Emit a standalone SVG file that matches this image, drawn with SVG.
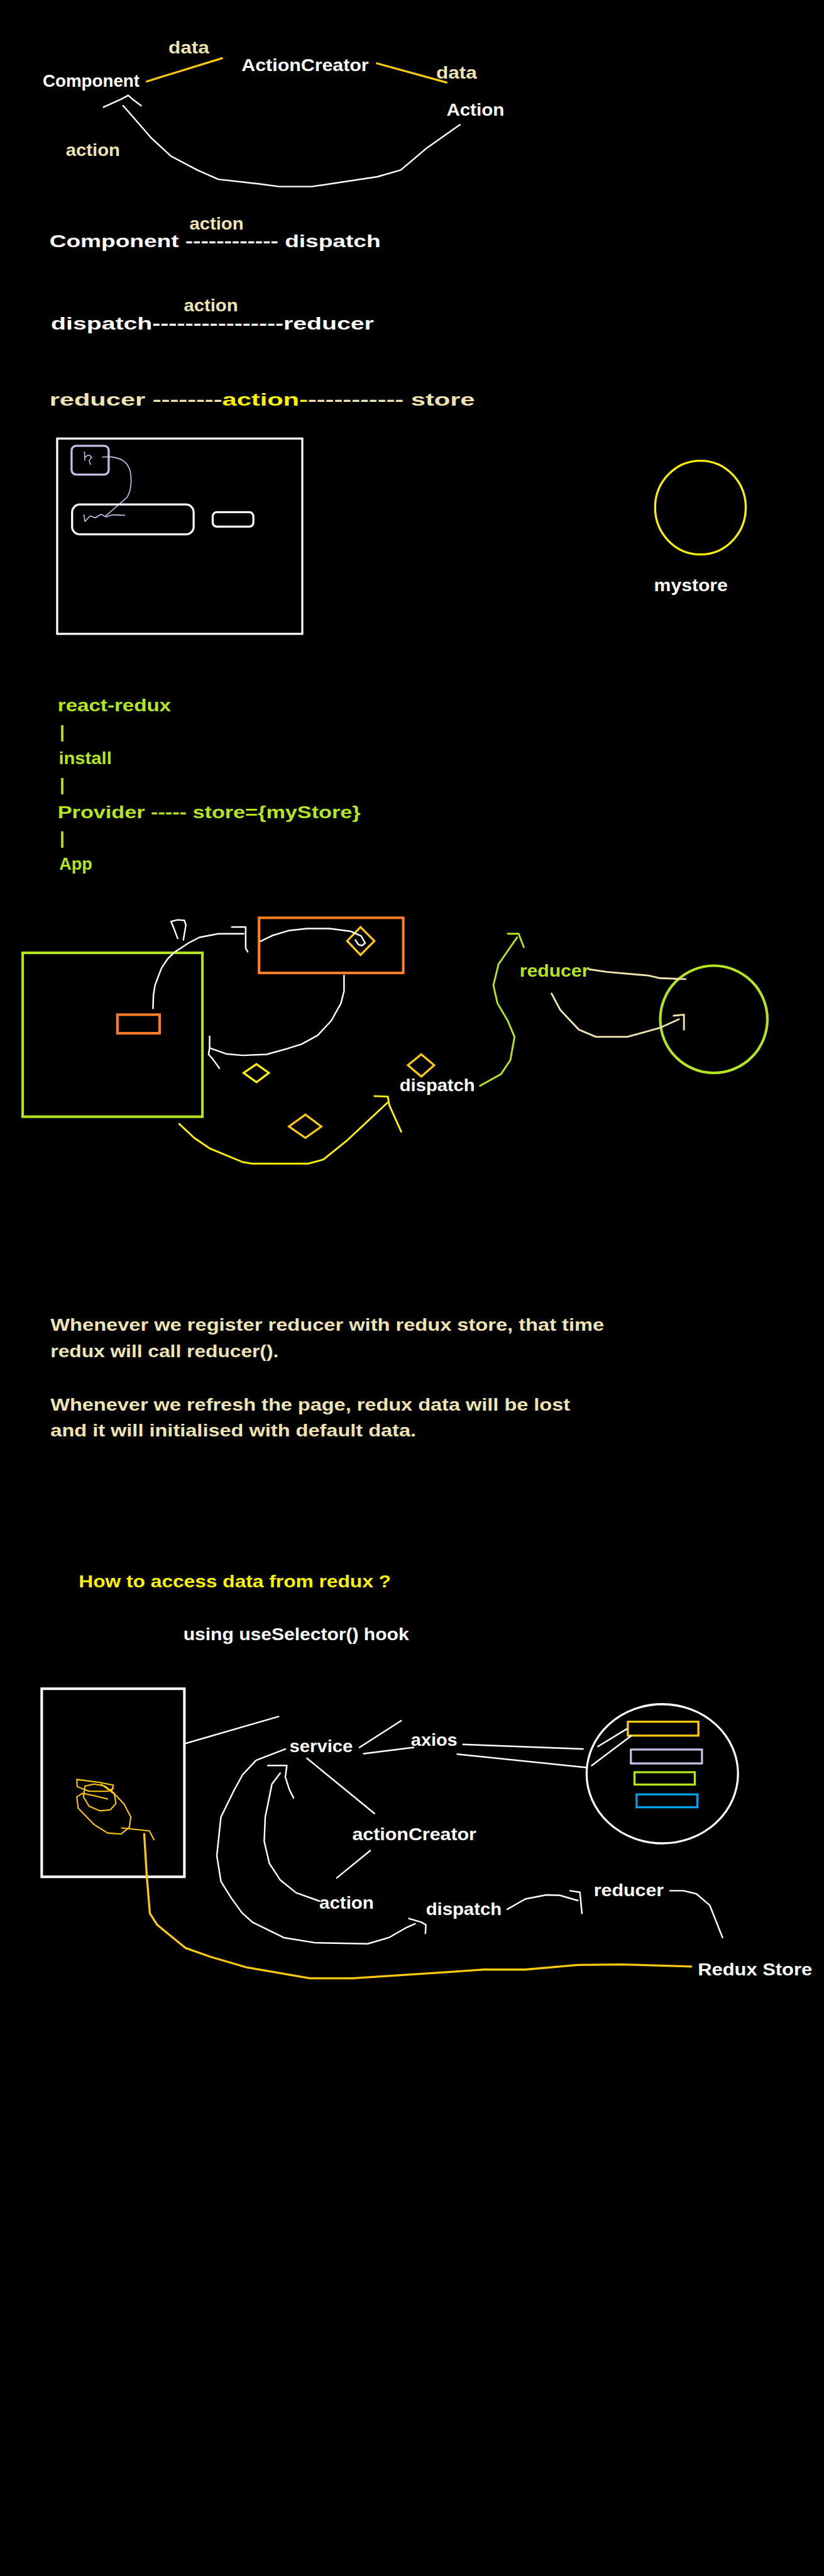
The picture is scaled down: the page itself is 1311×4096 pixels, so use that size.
<svg xmlns="http://www.w3.org/2000/svg" width="1311" height="4096" viewBox="0 0 1311 4096">
<style>
.t{font-family:"Liberation Sans",Arial,sans-serif;font-weight:bold;font-size:34px}
.w{fill:#ffffff}.tan{fill:#EFE4B0}.y{fill:#FFF200}.g{fill:#B5E61D}
.s{fill:none;stroke-linecap:round;stroke-linejoin:round}
.sw{stroke:#ffffff;stroke-width:3}
.sgold{stroke:#FFC90E;stroke-width:4}
.sy{stroke:#FFF200;stroke-width:3.5}
.sg{stroke:#B5E61D;stroke-width:3.5}
.stan{stroke:#EFE4B0;stroke-width:3.5}
.slav{stroke:#C8BFE7;stroke-width:2}
</style>
<rect width="1311" height="4096" fill="#000000"/>
<g transform="scale(0.8194)">

<!-- Section 1 -->
<g id="n-data1"><text class="t tan" x="327" y="104" textLength="79" lengthAdjust="spacingAndGlyphs">data</text></g>
<g id="n-actioncreator"><text class="t w" x="469" y="138" textLength="247" lengthAdjust="spacingAndGlyphs">ActionCreator</text></g>
<g id="n-component"><text class="t w" x="83" y="168" textLength="188" lengthAdjust="spacingAndGlyphs">Component</text></g>
<g id="n-data2"><text class="t tan" x="847" y="152" textLength="79" lengthAdjust="spacingAndGlyphs">data</text></g>
<g id="n-action1"><text class="t w" x="867" y="225" textLength="112" lengthAdjust="spacingAndGlyphs">Action</text></g>
<g id="n-actionlabel"><text class="t tan" x="128" y="303" textLength="105" lengthAdjust="spacingAndGlyphs">action</text></g>

<!-- Section 2 -->
<g id="n-line-a"><text class="t tan" x="368" y="446" textLength="105" lengthAdjust="spacingAndGlyphs">action</text>
<text class="t w" x="96" y="480" textLength="643" lengthAdjust="spacingAndGlyphs">Component ------------ dispatch</text></g>
<g id="n-line-b"><text class="t tan" x="357" y="604" textLength="105" lengthAdjust="spacingAndGlyphs">action</text>
<text class="t w" x="99" y="640" textLength="627" lengthAdjust="spacingAndGlyphs">dispatch----------------reducer</text></g>
<g id="n-line-c"><text class="t tan" x="96" y="787" textLength="826" lengthAdjust="spacingAndGlyphs">reducer --------<tspan class="y">action-</tspan>----------- store</text></g>

<!-- Section 3 -->
<g id="n-page">
<rect x="111" y="851" width="476" height="379" fill="none" stroke="#ffffff" stroke-width="4"/>
<rect x="139" y="865" width="72" height="56" rx="9" fill="none" stroke="#C8BFE7" stroke-width="4"/>
<path class="s slav" d="M164,877 L165,893 M166,887 Q173,879 178,888 Q170,893 176,901"/>
<path class="s slav" d="M199,887 Q245,883 253,915 Q258,945 247,965 L204,1002"/>
<path class="s slav" d="M163,999 L165,1012 L175,1001 L185,1005 L196,998 L206,1003 L218,999 L242,1000"/>
<rect x="140" y="979" width="236" height="58" rx="15" fill="none" stroke="#ffffff" stroke-width="4"/>
<rect x="413" y="994" width="79" height="28" rx="8" fill="none" stroke="#ffffff" stroke-width="4"/>
</g>
<g id="n-mystore">
<ellipse cx="1360" cy="985" rx="88" ry="91" fill="none" stroke="#FFF200" stroke-width="4"/>
<text class="t w" x="1270" y="1147" textLength="143" lengthAdjust="spacingAndGlyphs">mystore</text>
</g>

<!-- Section 4 -->
<g id="n-react-redux">
<text class="t g" x="112" y="1380" textLength="220" lengthAdjust="spacingAndGlyphs">react-redux</text>
<text class="t g" x="116" y="1431">|</text>
<text class="t g" x="114" y="1483" textLength="103" lengthAdjust="spacingAndGlyphs">install</text>
<text class="t g" x="116" y="1534">|</text>
<text class="t g" x="112" y="1588" textLength="588" lengthAdjust="spacingAndGlyphs">Provider ----- store={myStore}</text>
<text class="t g" x="116" y="1638">|</text>
<text class="t g" x="115" y="1688" textLength="64" lengthAdjust="spacingAndGlyphs">App</text>
</g>

<!-- Section 5 -->
<g id="n-app-box">
<rect x="44" y="1849" width="349" height="318" fill="none" stroke="#B5E61D" stroke-width="5"/>
<rect x="228" y="1969" width="82" height="36" fill="none" stroke="#FF7F27" stroke-width="5"/>
</g>
<g id="n-comp-box">
<rect x="503" y="1781" width="280" height="107" fill="none" stroke="#FF7F27" stroke-width="5"/>
<polygon points="700,1799 727,1826 700,1853 674,1826" fill="none" stroke="#FFC90E" stroke-width="4"/>
</g>
<g id="n-diamonds">
<polygon points="498,2065 522,2082 498,2100 473,2082" fill="none" stroke="#FFF200" stroke-width="4"/>
<polygon points="593,2163 624,2186 593,2208 561,2186" fill="none" stroke="#FFC90E" stroke-width="4"/>
<polygon points="818,2046 843,2067 818,2089 792,2067" fill="none" stroke="#FFC90E" stroke-width="4"/>
</g>
<g id="n-dispatch1"><text class="t w" x="776" y="2117" textLength="146" lengthAdjust="spacingAndGlyphs">dispatch</text></g>
<g id="n-reducer1"><text class="t g" x="1009" y="1895" textLength="135" lengthAdjust="spacingAndGlyphs">reducer</text></g>
<g id="n-store1"><circle cx="1386" cy="1978" r="104" fill="none" stroke="#B5E61D" stroke-width="5"/></g>

<!-- Section 6 -->
<g id="n-notes">
<text class="t tan" x="98" y="2582" textLength="1075" lengthAdjust="spacingAndGlyphs">Whenever we register reducer with redux store, that time</text>
<text class="t tan" x="98" y="2634" textLength="443" lengthAdjust="spacingAndGlyphs">redux will call reducer().</text>
<text class="t tan" x="98" y="2737" textLength="1009" lengthAdjust="spacingAndGlyphs">Whenever we refresh the page, redux data will be lost</text>
<text class="t tan" x="98" y="2788" textLength="710" lengthAdjust="spacingAndGlyphs">and it will initialised with default data.</text>
</g>

<!-- Section 7 -->
<g id="n-question">
<text class="t y" x="153" y="3080" textLength="606" lengthAdjust="spacingAndGlyphs">How to access data from redux ?</text>
<text class="t w" x="356" y="3183" textLength="438" lengthAdjust="spacingAndGlyphs">using useSelector() hook</text>
</g>

<!-- Section 8 -->
<g id="n-page2">
<rect x="81" y="3277" width="277" height="365" fill="none" stroke="#ffffff" stroke-width="5"/>
<path class="s" stroke="#FFC90E" stroke-width="2.5" d="M149,3453 L194,3459 L220,3464 L217,3475 M149,3453 L150,3467 L173,3476 L209,3476 L220,3470"/>
<path class="s" stroke="#FFC90E" stroke-width="2.5" d="M183,3462 L165,3466 L162,3487 L173,3505 L194,3514 L214,3512 L225,3500 L222,3480 L204,3466 L183,3462"/>
<path class="s" stroke="#FFC90E" stroke-width="2.5" d="M196,3462 L225,3484 L241,3501 L254,3526 L251,3546 L235,3559 L209,3557 L183,3541 L152,3509 L149,3487 L160,3480 L180,3484 L209,3491"/>
</g>
<g id="n-service"><text class="t w" x="562" y="3400" textLength="123" lengthAdjust="spacingAndGlyphs">service</text></g>
<g id="n-axios"><text class="t w" x="798" y="3388" textLength="90" lengthAdjust="spacingAndGlyphs">axios</text></g>
<g id="n-server">
<ellipse cx="1286" cy="3442" rx="147" ry="135" fill="none" stroke="#ffffff" stroke-width="4"/>
<rect x="1219" y="3341" width="137" height="27" fill="none" stroke="#FFC90E" stroke-width="4"/>
<rect x="1225" y="3395" width="138" height="27" fill="none" stroke="#C8BFE7" stroke-width="4"/>
<rect x="1232" y="3439" width="117" height="24" fill="none" stroke="#B5E61D" stroke-width="4"/>
<rect x="1236" y="3482" width="118" height="25" fill="none" stroke="#00A2E8" stroke-width="4"/>
</g>
<g id="n-actioncreator2"><text class="t w" x="684" y="3571" textLength="241" lengthAdjust="spacingAndGlyphs">actionCreator</text></g>
<g id="n-action2"><text class="t w" x="620" y="3704" textLength="106" lengthAdjust="spacingAndGlyphs">action</text></g>
<g id="n-dispatch2"><text class="t w" x="827" y="3716" textLength="147" lengthAdjust="spacingAndGlyphs">dispatch</text></g>
<g id="n-reducer2"><text class="t w" x="1153" y="3680" textLength="136" lengthAdjust="spacingAndGlyphs">reducer</text></g>
<g id="n-reduxstore"><text class="t w" x="1355" y="3833" textLength="222" lengthAdjust="spacingAndGlyphs">Redux Store</text></g>

<!-- Connectors -->
<g id="connectors">
<path class="s sgold" d="M285,158 L431,113"/>
<path class="s sgold" d="M732,123 L867,160"/>
<path class="s sw" d="M893,242 L829,287 L778,330 L733,343 L606,362 L542,362 L504,357 L424,348 L383,330 L332,303 L293,267 L261,230 L239,205"/>
<path class="s sw" d="M201,208 L236,192 L249,185 L258,193 L274,205"/>

<path class="s sw" d="M505,1827 L530,1815 L560,1806 L596,1802 L640,1802 L680,1807 L701,1816 L709,1830 L703,1835 L696,1833 L690,1824"/>
<path class="s sw" d="M297,1957 L298,1930 L301,1912 L308,1893 L314,1878 L326,1860 L340,1847 L366,1830 L387,1819 L424,1812 L473,1812"/>
<path class="s sw" d="M450,1799 L477,1799 L477,1840 L481,1847"/>
<path class="s sw" d="M345,1821 L337,1800 L332,1788 L345,1785 L358,1786 L361,1795 L356,1824"/>
<path class="s sw" d="M668,1893 L668,1923 L662,1947 L643,1981 L617,2009 L586,2026 L554,2036 L518,2046 L471,2048 L439,2045 L408,2034"/>
<path class="s sw" d="M407,2011 L407,2033 L405,2046 L413,2055 L426,2073"/>
<path class="s sy" d="M348,2181 L377,2208 L408,2229 L471,2255 L489,2258 L599,2258 L628,2250 L675,2212 L753,2139"/>
<path class="s sy" d="M727,2127 L753,2128 L756,2145 L779,2196"/>
<path class="s sg" d="M932,2107 L973,2084 L991,2057 L999,2012 L986,1981 L966,1947 L958,1912 L968,1871 L1004,1819"/>
<path class="s sg" d="M986,1812 L1007,1812 L1017,1838"/>
<path class="s stan" d="M1144,1881 L1178,1886 L1259,1893 L1280,1898 L1331,1900"/>
<path class="s stan" d="M1071,1928 L1088,1960 L1124,1998 L1157,2012 L1218,2012 L1280,1995 L1318,1978"/>
<path class="s stan" d="M1308,1971 L1328,1969 L1328,1998"/>

<path class="s sw" stroke-width="4" d="M361,3383 L541,3331"/>
<path class="s sw" stroke-width="4" d="M698,3391 L779,3339"/>
<path class="s sw" stroke-width="4" d="M706,3403 L803,3391"/>
<path class="s sw" stroke-width="4" d="M899,3385 L1132,3394"/>
<path class="s sw" stroke-width="4" d="M888,3404 L1139,3430"/>
<path class="s sw" stroke-width="4" d="M1161,3389 L1217,3355"/>
<path class="s sw" stroke-width="4" d="M1149,3426 L1226,3368"/>
<path class="s sw" stroke-width="4" d="M596,3412 L727,3519"/>
<path class="s sw" stroke-width="4" d="M719,3591 L654,3644"/>
<path class="s sw" d="M620,3689 L575,3673 L544,3648 L523,3616 L513,3573 L515,3526 L523,3487 L528,3462 L544,3441"/>
<path class="s sw" d="M520,3426 L557,3426 L554,3448 L562,3473 L570,3489"/>
<path class="s sw" d="M554,3394 L497,3416 L471,3444 L455,3473 L429,3526 L421,3601 L429,3651 L449,3683 L470,3712 L490,3730 L551,3760 L612,3770 L714,3772 L755,3760 L790,3740 L806,3733"/>
<path class="s sw" d="M794,3723 L818,3730 L827,3735 L826,3752"/>
<path class="s sw" d="M985,3705 L1020,3685 L1061,3677 L1087,3678 L1122,3688"/>
<path class="s sw" d="M1107,3669 L1126,3672 L1130,3713"/>
<path class="s sw" d="M1301,3669 L1327,3669 L1352,3675 L1378,3697 L1403,3760"/>
<path class="s" stroke="#FFC90E" stroke-width="2.5" d="M236,3547 L290,3553 L299,3570"/>
<path class="s sgold" d="M280,3559 L285,3641 L291,3713 L305,3735 L327,3753 L360,3780 L408,3797 L480,3818 L602,3839 L684,3839 L867,3827 L939,3822 L1020,3822 L1122,3813 L1204,3812 L1342,3816"/>
</g>
</g>
</svg>
